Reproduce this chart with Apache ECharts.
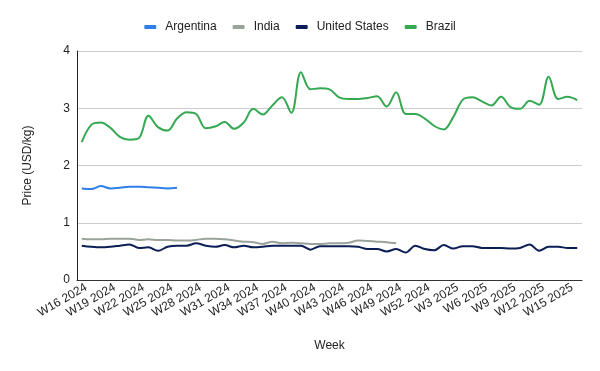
<!DOCTYPE html>
<html>
<head>
<meta charset="utf-8">
<script src="https://cdn.jsdelivr.net/npm/echarts@6/dist/echarts.min.js"></script>
<style>html,body{margin:0;padding:0;background:#fff}#c{width:600px;height:371px}</style>
</head>
<body>
<div id="c"></div>
<script>
var weeks = [];
for (var w = 16; w <= 52; w++) weeks.push('W' + w + ' 2024');
for (var w2 = 1; w2 <= 16; w2++) weeks.push('W' + w2 + ' 2025');

var argentina = [1.60,1.59,1.64,1.60,1.61,1.63,1.63,1.62,1.61,1.60,1.61];
var india = [0.72,0.71,0.71,0.72,0.72,0.72,0.70,0.71,0.70,0.70,0.69,0.69,0.70,0.72,0.72,0.71,0.69,0.67,0.66,0.63,0.67,0.64,0.65,0.64,0.63,0.63,0.64,0.64,0.65,0.69,0.68,0.67,0.66,0.64];
var unitedStates = [0.60,0.58,0.57,0.58,0.60,0.62,0.56,0.57,0.51,0.58,0.60,0.60,0.64,0.60,0.58,0.61,0.57,0.60,0.57,0.58,0.60,0.60,0.60,0.60,0.53,0.59,0.59,0.59,0.59,0.58,0.54,0.54,0.50,0.54,0.48,0.60,0.54,0.52,0.61,0.55,0.59,0.59,0.56,0.56,0.56,0.55,0.56,0.62,0.51,0.58,0.58,0.56,0.56];
var brazil = [2.41,2.71,2.75,2.66,2.50,2.45,2.48,2.87,2.67,2.61,2.82,2.93,2.90,2.65,2.68,2.76,2.64,2.75,2.99,2.89,3.05,3.19,2.92,3.63,3.33,3.35,3.33,3.19,3.16,3.16,3.18,3.21,3.03,3.28,2.90,2.90,2.82,2.69,2.63,2.85,3.15,3.19,3.12,3.05,3.20,3.02,2.99,3.13,3.06,3.55,3.16,3.20,3.14];
var yTicks = [0,1,2,3,4];

var names = ['Argentina','India','United States','Brazil'];
var colors = ['#2f7fe8','#9aa39a','#0b1f56','#35a852'];
var datas = [argentina, india, unitedStates, brazil];

var chart = echarts.init(document.getElementById('c'));
var font = 'Liberation Sans, Arial, sans-serif';
chart.setOption({
  animation: false,
  textStyle: {fontFamily: font},
  legend: {
    top: 16, left: 'center',
    itemWidth: 12, itemHeight: 4, itemGap: 16,
    icon: 'roundRect',
    textStyle: {fontSize: 12, color: '#222', fontFamily: font, padding: [0,0,0,4]},
    data: names
  },
  grid: {left: 77, right: 18, top: 51, bottom: 91, containLabel: false},
  xAxis: {
    type: 'category', data: weeks, boundaryGap: true,
    name: 'Week', nameLocation: 'middle', nameGap: 60,
    nameTextStyle: {fontSize: 12, color: '#222', fontFamily: font},
    axisLine: {lineStyle: {color: '#333', width: 1}},
    axisTick: {show: false},
    axisLabel: {interval: 2, rotate: 30, fontSize: 12, color: '#222', fontFamily: font, margin: 9, padding: [0,-5,0,0]}
  },
  yAxis: {
    type: 'value', min: yTicks[0], max: yTicks[yTicks.length-1], interval: 1,
    name: 'Price (USD/kg)', nameLocation: 'middle', nameGap: 43,
    nameTextStyle: {fontSize: 12, color: '#222', fontFamily: font},
    axisLine: {show: true, lineStyle: {color: '#222', width: 1}},
    axisTick: {show: false},
    splitLine: {lineStyle: {color: '#cccccc', width: 1}},
    axisLabel: {fontSize: 12, color: '#222', fontFamily: font, margin: 7}
  },
  series: names.map(function(n, k){
    return {
      name: n, type: 'line', data: datas[k], smooth: 0.35,
      showSymbol: false, symbol: 'none',
      lineStyle: {color: colors[k], width: 2},
      itemStyle: {color: colors[k]},
      z: k === 3 ? 5 : 2
    };
  })
});
</script>
</body>
</html>
